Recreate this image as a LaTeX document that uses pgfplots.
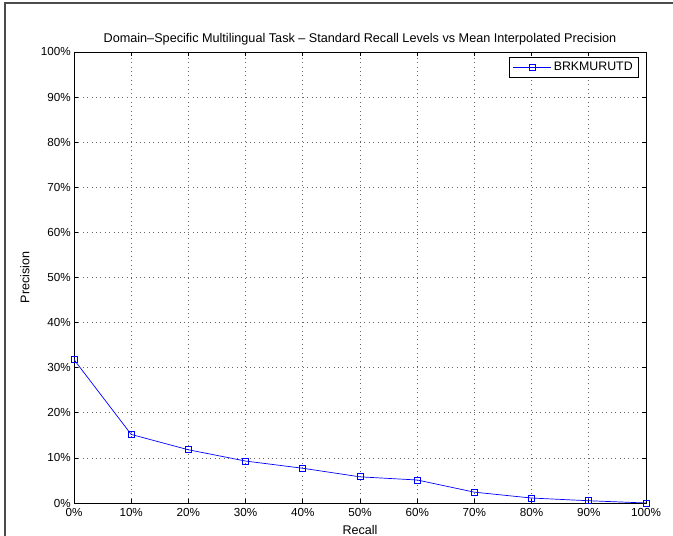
\documentclass[border=0pt]{standalone}
\usepackage{pgfplots}
\pgfplotsset{compat=1.18}
\usepackage{fontspec}
\setmainfont{Liberation Sans}
\begin{document}
\fontsize{12.5}{15}\selectfont
\begin{tikzpicture}[x=1bp,y=1bp]
\path[use as bounding box] (0,0) rectangle (673,536);
\draw[gray!60!black,line width=1.2bp] (5,0) -- (5,533) -- (673,533);
\begin{axis}[
  at={(74bp,33bp)}, anchor=south west,
  scale only axis, width=572bp, height=451bp,
  xmin=0, xmax=100, ymin=0, ymax=1,
  xtick={0,10,...,100},
  xticklabels={0\%,10\%,20\%,30\%,40\%,50\%,60\%,70\%,80\%,90\%,100\%},
  ytick={0,0.1,...,1.0},
  yticklabels={0\%,10\%,20\%,30\%,40\%,50\%,60\%,70\%,80\%,90\%,100\%},
  tick align=inside, tick pos=both,
  major tick length=4bp,
  grid=major,
  grid style={gray!80!black, dash pattern=on 0.8bp off 3.6bp, line width=0.7bp},
  axis line style={black, line width=0.9bp},
  tick style={black, line width=0.7bp},
  xticklabel style={font=\fontsize{11.7}{14}\selectfont, yshift=-1bp},
  yticklabel style={font=\fontsize{11.7}{14}\selectfont, xshift=1bp},
  title={Domain--Specific Multilingual Task -- Standard Recall Levels vs Mean Interpolated Precision},
  title style={font=\fontsize{12.7}{15}\selectfont, at={(axis description cs:0.5,1)}, anchor=south, yshift=-3bp},
  xlabel={Recall}, ylabel={Precision},
  xlabel style={font=\fontsize{12.6}{15}\selectfont, at={(axis description cs:0.5,0)}, anchor=north, yshift=-18bp},
  ylabel style={font=\fontsize{12.6}{15}\selectfont, at={(axis description cs:-0.07,0.5)}, anchor=south},
  legend style={draw=black, line width=0.9bp, font=\fontsize{12.4}{15}\selectfont, inner xsep=4bp, inner ysep=3bp, at={(0.988,0.989)}, anchor=north east},
  legend cell align=left,
  legend image code/.code={\draw[#1] (0bp,0bp) -- (38bp,0bp); \draw[#1,only marks] plot coordinates {(19bp,0bp)};},
]
\addplot[blue, line width=0.7bp, mark=square, mark size=3bp, mark options={blue, line width=0.7bp}]
coordinates {
(0,0.318) (10,0.152) (20,0.118) (30,0.093) (40,0.077) (50,0.058) (60,0.051) (70,0.024) (80,0.011) (90,0.005) (100,0.0)
};
\addlegendentry{BRKMURUTD}
\end{axis}
\end{tikzpicture}
\end{document}
